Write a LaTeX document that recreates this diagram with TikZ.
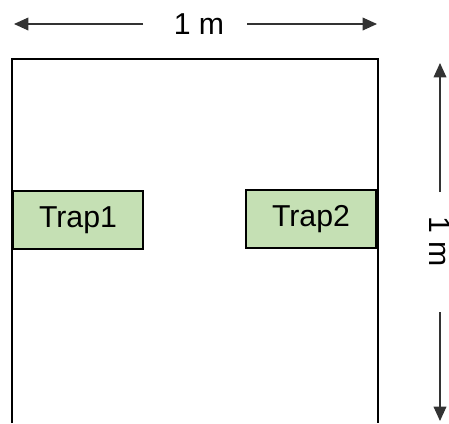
\documentclass[tikz,border=0pt]{standalone}
\usepackage{fontspec}
\setmainfont{Liberation Sans}
\usetikzlibrary{arrows.meta}
\definecolor{trapgreen}{HTML}{C5E0B4}

\begin{document}
\begin{tikzpicture}[x=0.025cm, y=-0.025cm,
    trap/.style={draw=black, line width=1.1pt, fill=trapgreen, minimum width=3.25cm, minimum height=1.45cm, font=\fontsize{21.5}{25}\selectfont},
    dimlabel/.style={inner sep=0pt, font=\fontsize{21.5}{25}\selectfont},
    dim/.style={draw=black!80, line width=0.8pt, -{Triangle[length=0.36cm, width=0.32cm]}}]
      \useasboundingbox (0,0) rectangle (449,423);
      \draw[line width=1.4pt] (12,423) -- (12,59) -- (378,59) -- (378,423);
      \node[trap] (trap1) at (78,220) {Trap1};
      \node[trap] (trap2) at (311,219) {Trap2};
      \node[dimlabel] (wlabel) at (199,24) {1 m};
      \coordinate (wleft) at (14,24);
      \coordinate (wright) at (377,24);
      \coordinate (wgapl) at (143,24);
      \coordinate (wgapr) at (247,24);
      \draw[dim] (wgapl) -- (wleft);
      \draw[dim] (wgapr) -- (wright);
      \node[dimlabel, rotate=-90] (hlabel) at (440,242) {1 m};
      \coordinate (htop) at (440,63);
      \coordinate (hbot) at (440,421);
      \coordinate (hgapt) at (440,192);
      \coordinate (hgapb) at (440,312);
      \draw[dim] (hgapt) -- (htop);
      \draw[dim] (hgapb) -- (hbot);
\end{tikzpicture}
\end{document}
